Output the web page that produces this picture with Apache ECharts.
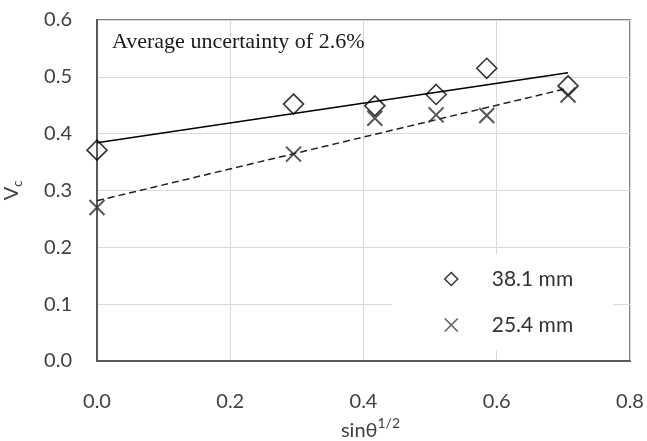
<!DOCTYPE html>
<html>
<head>
<meta charset="utf-8">
<script src="https://cdn.jsdelivr.net/npm/echarts@6/dist/echarts.min.js"></script>
<style>html,body{margin:0;padding:0;background:#fff;}#c{width:647px;height:441px;}</style>
</head>
<body>
<div id="c"></div>
<script>
// x values: sin(theta)^(1/2)
const xVals = [0.0, 0.295, 0.417, 0.509, 0.585, 0.707];
const vc38 = [0.371, 0.452, 0.449, 0.469, 0.515, 0.484];
const vc25 = [0.270, 0.364, 0.427, 0.433, 0.432, 0.468];
// trend line endpoints
const trendX = [0.0, 0.707];
const trend38 = [0.384, 0.507];
const trend25 = [0.282, 0.480];
const seriesNames = ['38.1 mm', '25.4 mm'];
const xTicks = [0, 0.2, 0.4, 0.6, 0.8];
const yTicks = [0, 0.1, 0.2, 0.3, 0.4, 0.5, 0.6];
const note = 'Average uncertainty of 2.6%';

const pair = (xs, ys) => xs.map((x, i) => [x, ys[i]]);
const crossPath = 'path://M0,0L10,10M10,0L0,10';

const chart = echarts.init(document.getElementById('c'), null, {renderer: 'canvas'});
chart.setOption({
  animation: false,
  backgroundColor: '#fff',
  grid: {left: 97, right: 17, top: 20, bottom: 80, outerBoundsMode: 'none', containLabel: false,
    show: true, borderColor: '#595959', borderWidth: 1.5, backgroundColor: 'transparent'},
  xAxis: {
    type: 'value', min: xTicks[0], max: xTicks[xTicks.length - 1], interval: 0.2,
    axisLine: {show: true, onZero: false, lineStyle: {color: '#595959', width: 2}},
    axisTick: {show: false},
    splitLine: {show: true, lineStyle: {color: '#d9d9d9', width: 1}},
    axisLabel: {margin: 31, color: '#404040', fontFamily: 'Lato', fontSize: 20, formatter: v => v.toFixed(1)},
    name: '{a|sinθ}{b|1/2}', nameLocation: 'middle', nameGap: 45,
    nameTextStyle: {
      rich: {
        a: {fontFamily: 'Lato', fontSize: 20, color: '#404040', lineHeight: 22, verticalAlign: 'bottom'},
        b: {fontFamily: 'Lato', fontSize: 14, color: '#404040', lineHeight: 24, verticalAlign: 'top'}
      },
      padding: [0, 0, 0, 14]
    }
  },
  yAxis: {
    type: 'value', min: yTicks[0], max: yTicks[yTicks.length - 1], interval: 0.1,
    axisLine: {show: true, onZero: false, lineStyle: {color: '#595959', width: 2}},
    axisTick: {show: false},
    splitLine: {show: true, lineStyle: {color: '#d9d9d9', width: 1}},
    axisLabel: {margin: 25, color: '#404040', fontFamily: 'Lato', fontSize: 20, formatter: v => v.toFixed(1)},
    name: '{a|V}{b|c}', nameLocation: 'middle', nameGap: 73, nameRotate: 90,
    nameTextStyle: {
      rich: {
        a: {fontFamily: 'Lato', fontSize: 20, color: '#404040', lineHeight: 20, verticalAlign: 'top'},
        b: {fontFamily: 'Lato', fontSize: 13, color: '#404040', lineHeight: 22, verticalAlign: 'bottom'}
      }
    }
  },
  legend: {
    orient: 'vertical', left: 392, top: 254,
    padding: [14, 40, 14, 52],
    backgroundColor: '#fff',
    itemWidth: 13, itemHeight: 13, itemGap: 24,
    textStyle: {fontFamily: 'Lato', fontSize: 21, color: '#333', padding: [0, 0, 0, 29], lineHeight: 22},
    data: [
      {name: seriesNames[0], icon: 'diamond', itemStyle: {color: 'transparent', borderColor: '#000', borderWidth: 1.5}},
      {name: seriesNames[1], icon: crossPath, itemStyle: {color: 'transparent', borderColor: '#333', borderWidth: 1.5}}
    ]
  },
  graphic: [{
    type: 'text', left: 112, top: 31, z: 100,
    style: {text: note, font: '22px "Liberation Serif"', fill: '#1a1a1a'}
  }],
  series: [
    {
      name: 'trend38', type: 'line', data: pair(trendX, trend38), showSymbol: false, symbol: 'none',
      lineStyle: {color: '#000', width: 1.5, type: 'solid'}, z: 2, silent: true
    },
    {
      name: 'trend25', type: 'line', data: pair(trendX, trend25), showSymbol: false, symbol: 'none',
      lineStyle: {color: '#222', width: 1.5, type: [7, 4]}, z: 2, silent: true
    },
    {
      name: seriesNames[0], type: 'scatter', data: pair(xVals, vc38), symbol: 'diamond', symbolSize: [20, 20],
      itemStyle: {color: 'transparent', borderColor: '#000', borderWidth: 1.6}, z: 5
    },
    {
      name: seriesNames[1], type: 'scatter', data: pair(xVals, vc25), symbol: crossPath, symbolSize: 15,
      itemStyle: {color: 'transparent', borderColor: '#2a2a2a', borderWidth: 2}, z: 5
    }
  ]
});
</script>
</body>
</html>
